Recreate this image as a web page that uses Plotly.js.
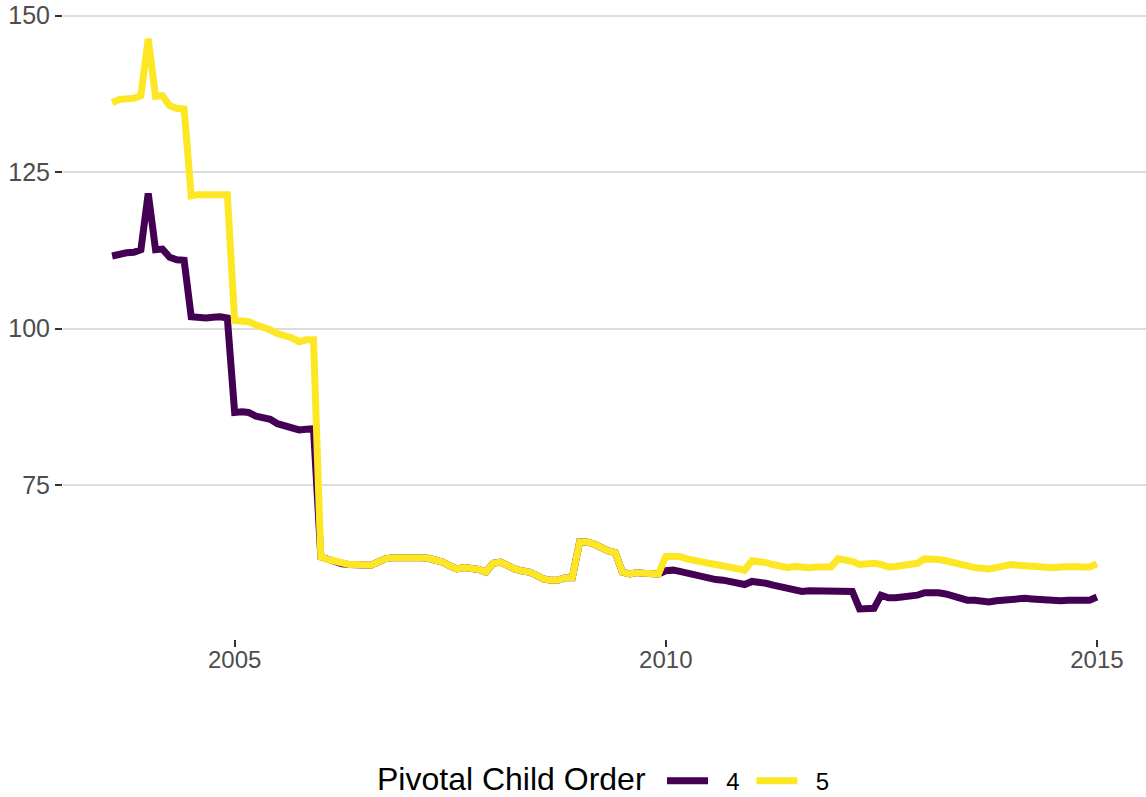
<!DOCTYPE html>
<html>
<head>
<meta charset="utf-8">
<script src="https://cdn.plot.ly/plotly-3.0.1.min.js"></script>
<style>
  html, body { margin: 0; padding: 0; background: #fff; }
  #plot { width: 1146px; height: 797px; }
</style>
</head>
<body>
<div id="plot"></div>
<script>
// monthly series, Aug 2003 .. Jan 2015
var startYear = 2003, startMonth = 8;

var order4 = [
  111.6, 112.0, 112.1, 112.2, 112.6,
  121.6, 112.6, 112.7, 111.4, 111.0, 110.9, 101.9, 101.7, 101.7, 101.8, 101.9, 101.7,
  86.6, 86.7, 86.6, 86.0, 85.7, 85.5, 84.8, 84.5, 84.3, 83.8, 83.9, 84.0,
  63.5, 63.1, 62.8, 62.4, 62.3, 62.3, 62.2, 62.2, 62.7, 63.2, 63.4, 63.4,
  63.5, 63.6, 63.4, 63.3, 63.1, 62.7, 62.1, 61.6, 61.8, 61.7, 61.5, 61.1,
  62.5, 62.7, 62.1, 61.6, 61.3, 61.1, 60.6, 60.0, 59.8, 59.8, 60.2, 60.2,
  65.9, 65.9, 65.6, 64.9, 64.5, 64.2, 61.1, 60.8, 61.0, 60.9, 60.8, 60.8,
  61.3, 61.4, 61.2, 60.9, 60.6, 60.4, 60.2, 59.9, 59.8, 59.6, 59.5, 59.1,
  59.6, 59.5, 59.3, 59.0, 58.7, 58.4, 58.2, 58.0, 58.1, 58.1, 58.1, 58.1,
  58.1, 58.1, 58.0, 55.2, 55.2, 55.3, 57.4, 57.0, 57.0, 57.1, 57.3, 57.4,
  57.8, 57.9, 57.8, 57.6, 57.3, 56.9, 56.6, 56.6, 56.5, 56.3, 56.5, 56.6,
  56.9, 57.0, 56.9, 56.8, 56.7, 56.5, 56.4, 56.5, 56.6, 56.6, 56.6, 56.6,
  57.1
];

var order5 = [
  136.1, 136.6, 136.7, 136.8, 137.2,
  146.3, 137.1, 137.2, 135.6, 135.2, 135.1, 121.2, 121.4, 121.4, 121.5, 121.5, 121.4,
  101.3, 101.3, 101.1, 100.6, 100.3, 99.8, 99.2, 98.9, 98.5, 97.9, 98.2, 98.2,
  63.5, 63.1, 62.8, 62.4, 62.3, 62.3, 62.2, 62.2, 62.7, 63.2, 63.4, 63.4,
  63.5, 63.6, 63.4, 63.3, 63.1, 62.7, 62.1, 61.6, 61.8, 61.7, 61.5, 61.1,
  62.5, 62.7, 62.1, 61.6, 61.3, 61.1, 60.6, 60.0, 59.8, 59.8, 60.2, 60.2,
  65.9, 65.9, 65.6, 64.9, 64.5, 64.2, 61.1, 60.8, 61.0, 60.9, 60.8, 60.8,
  63.6, 63.6, 63.6, 63.2, 62.9, 62.7, 62.5, 62.3, 62.1, 61.9, 61.8, 61.4,
  62.9, 62.8, 62.6, 62.3, 62.0, 61.8, 62.0, 61.8, 61.8, 61.9, 61.9, 61.9,
  63.2, 63.1, 62.8, 62.3, 62.4, 62.5, 62.3, 61.9, 62.0, 62.2, 62.3, 62.5,
  63.2, 63.2, 63.1, 62.9, 62.6, 62.2, 61.9, 61.8, 61.7, 61.6, 61.8, 62.0,
  62.3, 62.2, 62.1, 62.0, 61.9, 61.8, 61.8, 61.9, 62.0, 62.0, 61.9, 61.9,
  62.4
];

var xTickVals = ['2005-01-01', '2010-01-01', '2015-01-01'];
var xTickText = ['2005', '2010', '2015'];
var yTickVals = [75, 100, 125, 150];
var legendTitle = 'Pivotal Child Order';

var months = [];
for (var i = 0; i < order4.length; i++) {
  var m = startMonth - 1 + i;
  var yr = startYear + Math.floor(m / 12);
  var mm = (m % 12) + 1;
  months.push(yr + '-' + (mm < 10 ? '0' + mm : mm) + '-01');
}

// nbsp pad keeps the ggplot-like gaps around the legend labels
var trace4 = {
  x: months,
  y: order4,
  name: '\u00a0\u00a04\u00a0',
  type: 'scatter',
  mode: 'lines',
  line: { color: '#440154', width: 7 }
};

var trace5 = {
  x: months,
  y: order5,
  name: '\u00a0\u00a05',
  type: 'scatter',
  mode: 'lines',
  line: { color: '#FDE725', width: 7 }
};

var data = [trace4, trace5];

var layout = {
  width: 1146,
  height: 797,
  margin: { l: 63, r: 0, t: 10, b: 158 },
  paper_bgcolor: '#ffffff',
  plot_bgcolor: '#ffffff',
  font: { family: 'Liberation Sans, Arial, sans-serif', size: 24, color: '#4d4d4d' },
  showlegend: true,
  xaxis: {
    type: 'date',
    range: ['2003-01-05', '2015-07-28'],
    tickvals: xTickVals,
    ticktext: xTickText,
    showgrid: false,
    zeroline: false,
    showline: false,
    ticks: 'outside',
    ticklen: 7,
    tickwidth: 2,
    tickcolor: '#333333',
    ticklabelstandoff: -8,
    tickfont: { size: 24, color: '#4d4d4d' }
  },
  yaxis: {
    range: [50.4, 150.9],
    tickvals: yTickVals,
    showgrid: true,
    gridcolor: '#dcdcdc',
    gridwidth: 2,
    zeroline: false,
    showline: false,
    ticks: 'outside',
    ticklen: 7,
    tickwidth: 2,
    tickcolor: '#333333',
    tickfont: { size: 25, color: '#4d4d4d' }
  },
  legend: {
    orientation: 'h',
    x: 0.5531,
    xanchor: 'left',
    yref: 'container',
    y: 0.020,
    yanchor: 'middle',
    itemwidth: 41,
    font: { size: 24, color: '#000000' }
  },
  annotations: [{
    text: legendTitle,
    xref: 'paper', yref: 'paper',
    x: 0.5402, xanchor: 'right',
    y: -0.2226, yanchor: 'middle',
    showarrow: false,
    font: { size: 32, color: '#000000' }
  }]
};

Plotly.newPlot('plot', data, layout, { displayModeBar: false, staticPlot: true });
</script>
</body>
</html>
